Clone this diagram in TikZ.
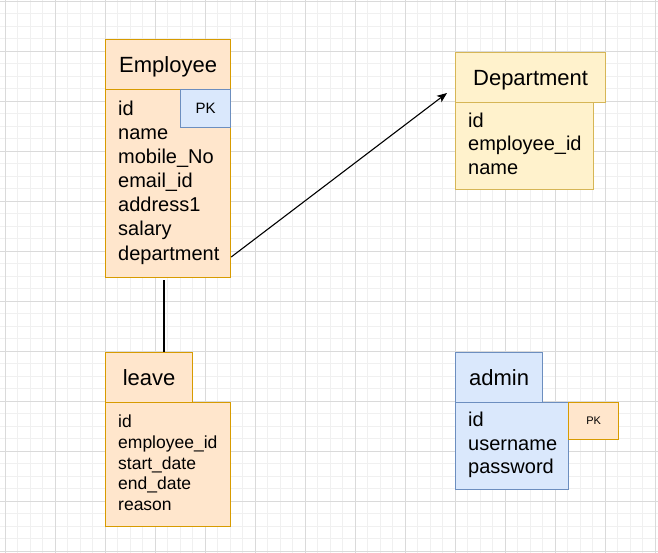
\documentclass[tikz,border=0pt]{standalone}
\usepackage{fontspec}
\setmainfont{Liberation Sans}
\usetikzlibrary{arrows.meta}
\definecolor{orFill}{HTML}{FFE6CC}
\definecolor{orLine}{HTML}{D79B00}
\definecolor{yeFill}{HTML}{FFF2CC}
\definecolor{yeLine}{HTML}{D6B656}
\definecolor{blFill}{HTML}{DAE8FC}
\definecolor{blLine}{HTML}{6C8EBF}
\definecolor{gridMinor}{HTML}{F0F0F0}
\definecolor{gridMajor}{HTML}{DADADA}
\begin{document}
\begin{tikzpicture}[x=1pt,y=-1pt,
  minorgrid/.style={draw=gridMinor,line width=1pt},
  majorgrid/.style={draw=gridMajor,line width=1pt},
  boxbase/.style={rectangle,draw,line width=1.2pt,anchor=north west,inner sep=0pt},
  orbox/.style={boxbase,fill=orFill,draw=orLine},
  yebox/.style={boxbase,fill=yeFill,draw=yeLine},
  blbox/.style={boxbase,fill=blFill,draw=blLine},
  hdr/.style={font=\fontsize{22}{26}\selectfont,text height=16pt,text depth=0pt},
  field/.style={anchor=base west,inner sep=0pt,font=\fontsize{20}{24}\selectfont},
  smallfield/.style={anchor=base west,inner sep=0pt,font=\fontsize{17.5}{21}\selectfont},
  conn/.style={draw=black,line width=1.1pt}
]
\useasboundingbox (0,0) rectangle (658,553);
\fill[white] (0,0) rectangle (658,553);
% grid
\foreach \i in {0,...,52} {\draw[minorgrid] ({5.3+12.5*\i},0) -- ++(0,553);}
\foreach \i in {0,...,44} {\draw[minorgrid] (0,{1.3+12.5*\i}) -- ++(658,0);}
\foreach \i in {0,...,13} {\draw[majorgrid] ({5.3+50*\i},0) -- ++(0,553);}
\foreach \i in {0,...,11} {\draw[majorgrid] (0,{1.3+50*\i}) -- ++(658,0);}

% Employee
\node[orbox,hdr,minimum width=125pt,minimum height=50pt] (emphead) at (105,39) {Employee};
\node[orbox,minimum width=125pt,minimum height=188pt] (empbody) at (105,89) {};
\node[blbox,minimum width=50pt,minimum height=38pt,font=\fontsize{15}{18}\selectfont] (emppk) at (180,89) {PK};
\foreach \t [count=\k from 0] in {id,name,mobile\_No,email\_id,address1,salary,department}
  {\node[field] (ef\k) at (118,{116+24*\k}) {\t};}

% Department
\node[yebox,hdr,minimum width=150pt,minimum height=50pt] (dephead) at (455,52) {Department};
\node[yebox,minimum width=138pt,minimum height=87pt] (depbody) at (455,102) {};
\foreach \t [count=\k from 0] in {id,employee\_id,name}
  {\node[field] (df\k) at (468,{127.5+23.5*\k}) {\t};}

% leave
\node[orbox,hdr,minimum width=87pt,minimum height=50pt] (leavehead) at (105,352) {leave};
\node[orbox,minimum width=125pt,minimum height=124pt] (leavebody) at (105,402) {};
\foreach \t [count=\k from 0] in {id,employee\_id,start\_date,end\_date,reason}
  {\node[smallfield] (lf\k) at (118,{427.7+20.7*\k}) {\t};}

% admin
\node[blbox,hdr,minimum width=87pt,minimum height=50pt] (adminhead) at (455,352) {admin};
\node[blbox,minimum width=113pt,minimum height=87pt] (adminbody) at (455,402) {};
\node[orbox,minimum width=50pt,minimum height=37pt,font=\fontsize{11}{13}\selectfont] (adminpk) at (568,402) {PK};
\foreach \t [count=\k from 0] in {id,username,password}
  {\node[field] (af\k) at (468,{426.7+23.3*\k}) {\t};}

% connectors
\coordinate (arrS) at (empbody.east |- ef6.base);
\coordinate (arrE) at (447,93);
\draw[conn,-{Stealth[length=10pt,width=8pt,inset=2.5pt]}] ([yshift=3pt]arrS) -- (arrE);
\coordinate (lineS) at (164,280);
\draw[conn] (lineS) -- (lineS |- leavehead.north);
\end{tikzpicture}
\end{document}
